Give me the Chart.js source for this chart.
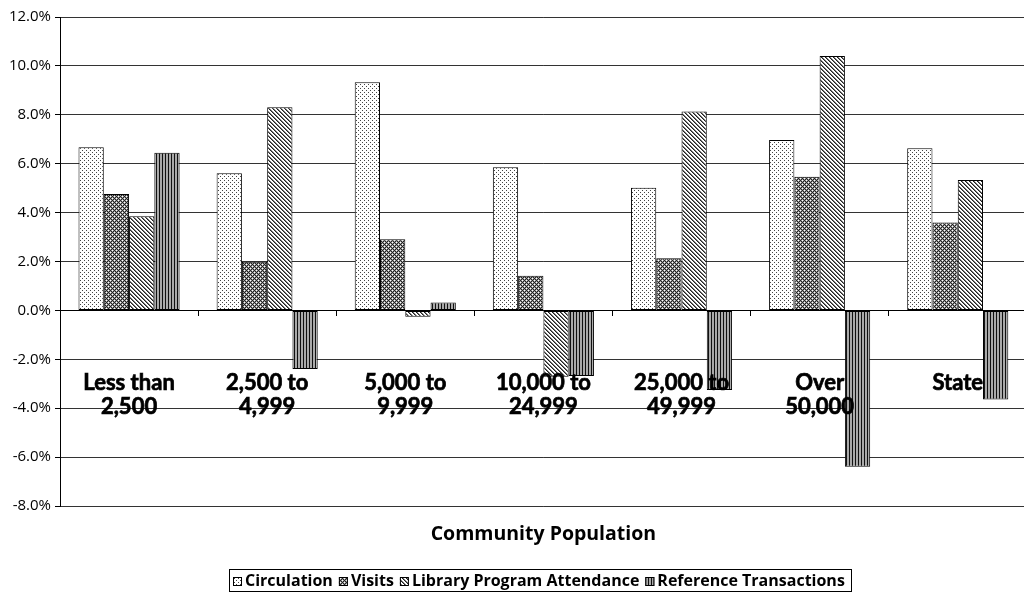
<!DOCTYPE html>
<html>
<head>
<meta charset="utf-8">
<script src="https://cdn.jsdelivr.net/npm/chart.js@4/dist/chart.umd.min.js"></script>
<style>
  html, body { margin: 0; padding: 0; background: #fff; overflow: hidden; width: 1024px; height: 592px; }
  #wrap { width: 1040px; height: 592px; position: relative; }
</style>
</head>
<body>
<div id="wrap"><canvas id="chart" width="1040" height="592"></canvas></div>
<script>
// Community population groups
const categories = [
  ['Less than', '2,500'],
  ['2,500 to', '4,999'],
  ['5,000 to', '9,999'],
  ['10,000 to', '24,999'],
  ['25,000 to', '49,999'],
  ['Over', '50,000'],
  'State'
];

// Percent change per group
const seriesNames = ['Circulation', 'Visits', 'Library Program Attendance', 'Reference Transactions'];
const circulation = [6.67, 5.61, 9.33, 5.85, 5.02, 6.97, 6.63];
const visits      = [4.76, 1.99, 2.91, 1.42, 2.13, 5.47, 3.59];
const programs    = [3.85, 8.31, -0.26, -2.71, 8.13, 10.40, 5.33];
const reference   = [6.45, -2.40, 0.32, -2.68, -3.26, -6.39, -3.64];

const yMin = -8, yMax = 12, yStep = 2;
const xTitle = 'Community Population';

// Monochrome fill patterns
function makePattern(w, h, paint) {
  const c = document.createElement('canvas');
  c.width = w; c.height = h;
  const g = c.getContext('2d');
  paint(g);
  return g.createPattern(c, 'repeat');
}
function px(g, x, y, col) { g.fillStyle = col; g.fillRect(x, y, 1, 1); }

const dotFill = makePattern(4, 4, g => {
  g.fillStyle = '#fff'; g.fillRect(0, 0, 4, 4);
  px(g, 0, 0, '#444'); px(g, 2, 2, '#444');
});
const trellisFill = makePattern(4, 4, g => {
  g.fillStyle = '#fff'; g.fillRect(0, 0, 4, 4);
  for (let x = 0; x < 4; x++) for (let y = 0; y < 4; y++) {
    if ((x + y) % 4 === 0 || (x - y + 4) % 4 === 0) px(g, x, y, '#222');
    else if ((x + y) % 2 === 1) px(g, x, y, '#999');
  }
});
const diagFill = makePattern(4, 4, g => {
  g.fillStyle = '#fff'; g.fillRect(0, 0, 4, 4);
  for (let x = 0; x < 4; x++) for (let y = 0; y < 4; y++) {
    const d = ((x - y) % 4 + 4) % 4;
    if (d === 0) px(g, x, y, '#222');
    else if (d === 1) px(g, x, y, '#777');
  }
});
const vertFill = makePattern(3, 3, g => {
  g.fillStyle = '#aaa'; g.fillRect(0, 0, 3, 3);
  g.fillStyle = '#111'; g.fillRect(0, 0, 1, 3);
});
const fills = [dotFill, trellisFill, diagFill, vertFill];

// Boxed legend row under the axis title
const boxedLegend = {
  id: 'boxedLegend',
  afterDraw(chart) {
    const ctx = chart.ctx;
    const left = 229, top = 569, right = 851, bottom = 591;
    ctx.save();
    ctx.strokeStyle = '#000';
    ctx.lineWidth = 1;
    ctx.strokeRect(left + 0.5, top + 0.5, right - left, bottom - top);
    ctx.font = 'bold 16px "Open Sans"';
    ctx.textBaseline = 'middle';
    ctx.fillStyle = '#000';
    let x = left + 4;
    const cy = 581;
    chart.data.datasets.forEach((ds) => {
      ctx.fillStyle = ds.backgroundColor;
      ctx.fillRect(x, cy - 4, 9, 9);
      ctx.strokeStyle = '#000';
      ctx.strokeRect(x + 0.5, cy - 4 + 0.5, 8, 8);
      x += 12;
      ctx.fillStyle = '#000';
      ctx.fillText(ds.label, x, cy);
      x += ctx.measureText(ds.label).width + 6;
    });
    ctx.restore();
  }
};

const datasets = [circulation, visits, programs, reference].map((vals, i) => ({
  label: seriesNames[i],
  data: vals,
  backgroundColor: fills[i],
  borderColor: '#000',
  borderWidth: 1,
  borderSkipped: false,
  barPercentage: 1,
  categoryPercentage: 0.732
}));

function build() {
  new Chart(document.getElementById('chart'), {
    type: 'bar',
    data: { labels: categories, datasets },
    plugins: [boxedLegend],
    options: {
      responsive: false,
      animation: false,
      devicePixelRatio: 1,
      layout: { padding: { top: 17, right: 7, bottom: 40, left: 0 } },
      plugins: {
        legend: { display: false },
        tooltip: { enabled: false },
        title: {
          display: true,
          text: xTitle,
          position: 'bottom',
          fullSize: false,
          color: '#000',
          font: { family: '"Open Sans"', size: 19.5, weight: 'bold' },
          padding: { top: 17, bottom: 5.6 }
        }
      },
      scales: {
        y: {
          min: yMin,
          max: yMax,
          afterFit(s) { s.width = 60; },
          ticks: {
            stepSize: yStep,
            color: '#000',
            padding: 4,
            font: { family: '"Open Sans"', size: 15 },
            callback: v => v.toFixed(1) + '%'
          },
          grid: { color: '#333', lineWidth: 1, tickLength: 5, tickColor: '#000' },
          border: { color: '#000', width: 1 }
        },
        x: {
          position: { y: 0 },
          offset: true,
          grid: { offset: true, drawOnChartArea: false, drawTicks: true, tickLength: 5, color: '#000' },
          border: { color: '#000', width: 1, z: 1 },
          ticks: {
            z: 1,
            color: '#000',
            textStrokeColor: '#000',
            textStrokeWidth: 0.7,
            autoSkip: false,
            maxRotation: 0,
            padding: 56,
            font: { family: 'Lato', size: 22, weight: 'bold', lineHeight: 24 / 22 }
          }
        }
      }
    }
  });
}

Promise.all([
  document.fonts.load('bold 16px "Open Sans"'),
  document.fonts.load('15px "Open Sans"'),
  document.fonts.load('bold 22px Lato')
]).then(build, build);
</script>
</body>
</html>
